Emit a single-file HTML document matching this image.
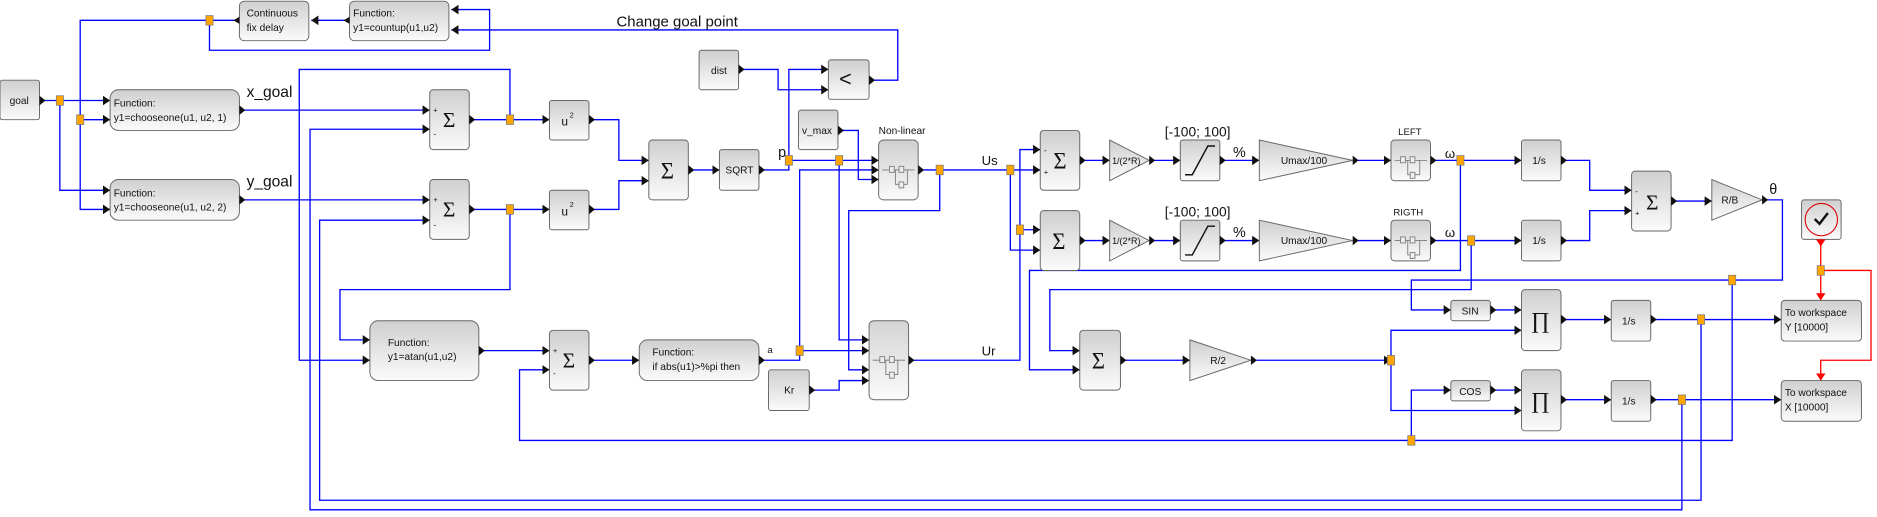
<!DOCTYPE html>
<html><head><meta charset="utf-8"><style>
html,body{margin:0;padding:0;background:#fff;}
svg{display:block;}
text{font-family:"Liberation Sans",sans-serif;fill:#111;}
</style></head><body>
<svg width="1877" height="517" viewBox="0 0 1568 432" preserveAspectRatio="none" xmlns="http://www.w3.org/2000/svg">
<defs>
<linearGradient id="g" x1="0" y1="0" x2="0" y2="1"><stop offset="0" stop-color="#cfcfcf"/><stop offset="1" stop-color="#fbfbfb"/></linearGradient>
<marker id="a" markerUnits="userSpaceOnUse" markerWidth="8" markerHeight="8" refX="6" refY="4" orient="auto"><path d="M0,0 L6,4 L0,8Z" fill="#111"/></marker>
<marker id="r" markerUnits="userSpaceOnUse" markerWidth="8" markerHeight="8" refX="6" refY="4" orient="auto"><path d="M0,0 L6,4 L0,8Z" fill="#f00"/></marker>
</defs>
<style>
.b{fill:url(#g);stroke:#666;stroke-width:0.8}
.l{fill:none;stroke:#0000ff;stroke-width:1.1}
.l2{fill:none;stroke:#0000ff;stroke-width:0.7}
.rd{fill:none;stroke:#f00;stroke-width:1.1}
.s{fill:#ffa500;stroke:#777;stroke-width:0.6}
.t{font-size:8.5px}
.o{fill:#111}
</style>

<!-- LINES -->
<g class="l" marker-end="url(#a)">
<polyline points="292,17 260,17"/>
<polyline points="200,17 175,17 67,17 67,175 92,175"/>
<polyline points="175,17 175,42 409,42 409,8 377,8"/>
<polyline points="728,67 750,67 750,25 377,25"/>
<polyline points="35,84 92,84"/>
<polyline points="50,84 50,159 92,159"/>
<polyline points="67,100 92,100"/>
<polyline points="202,92 359,92"/>
<polyline points="202,167 359,167"/>
<polyline points="394,100 459,100"/>
<polyline points="426,100 426,58 250,58 250,301 309,301"/>
<polyline points="394,175 459,175"/>
<polyline points="426,175 426,242 284,242 284,284 309,284"/>
<polyline points="494,100 517,100 517,134 542,134"/>
<polyline points="494,175 517,175 517,151 542,151"/>
<polyline points="577,142 601,142"/>
<polyline points="659,134 734,134"/>
<polyline points="659,134 659,58 692,58"/>
<polyline points="619,58 650,58 650,75 692,75"/>
<polyline points="701,134 701,284 726,284"/>
<polyline points="702,109 717,109 717,150 734,150"/>
<polyline points="668,293 726,293"/>
<polyline points="668,293 668,142 734,142"/>
<polyline points="678,326 701,326 701,318 726,318"/>
<polyline points="785,142 785,176 709,176 709,309 726,309"/>
<polyline points="844,142 869,142"/>
<polyline points="844,142 844,209 869,209"/>
<polyline points="761,301 852,301 852,125 869,125"/>
<polyline points="852,192 869,192"/>
<polyline points="904,134 927,134"/>
<polyline points="962,134 986,134"/>
<polyline points="1021,134 1052,134"/>
<polyline points="1132,134 1162,134"/>
<polyline points="1197,134 1271,134"/>
<polyline points="1306,134 1328,134 1328,159 1363,159"/>
<polyline points="904,201 927,201"/>
<polyline points="962,201 986,201"/>
<polyline points="1021,201 1052,201"/>
<polyline points="1132,201 1162,201"/>
<polyline points="1197,201 1271,201"/>
<polyline points="1306,201 1328,201 1328,176 1363,176"/>
<polyline points="1398,168 1430,168"/>
<polyline points="1474,167 1489,167 1489,234 1179,234 1179,259 1212,259"/>
<polyline points="1447,234 1447,368 434,368 434,309 459,309"/>
<polyline points="1179,368 1179,326 1212,326"/>
<polyline points="1220,134 1220,226 860,226 860,309 902,309"/>
<polyline points="1229,201 1229,242 877,242 877,293 902,293"/>
<polyline points="402,293 459,293"/>
<polyline points="494,301 534,301"/>
<polyline points="938,301 994,301"/>
<polyline points="1047,301 1162,301"/>
<polyline points="1162,301 1162,276 1271,276"/>
<polyline points="1162,301 1162,343 1271,343"/>
<polyline points="1247,259 1271,259"/>
<polyline points="1247,326 1271,326"/>
<polyline points="1306,267 1346,267"/>
<polyline points="1306,334 1346,334"/>
<polyline points="1381,267 1488,267"/>
<polyline points="1381,334 1488,334"/>
<polyline points="1405,334 1405,426 259,426 259,108 359,108"/>
<polyline points="1421,267 1421,418 267,418 267,184 359,184"/>
</g>
<g class="l">
<polyline points="636,142 659,142 659,134"/>
<polyline points="636,301 668,301 668,293"/>
<polyline points="769,142 844,142"/>
</g>
<g class="rd" marker-end="url(#r)">
<polyline points="1521,202 1521,251"/>
<polyline points="1521,226 1563,226 1563,301 1521,301 1521,318"/>
</g>

<!-- BLOCKS -->
<g>
<rect class="b" x="200" y="1" width="58" height="33" rx="4"/>
<text class="t" x="206" y="14">Continuous</text><text class="t" x="206" y="26">fix delay</text>
<rect class="b" x="292" y="1" width="83" height="33" rx="4"/>
<text class="t" x="295" y="14">Function:</text><text class="t" x="295" y="26">y1=countup(u1,u2)</text>
<rect class="b" x="0" y="67" width="33" height="33" rx="2"/>
<text class="t" x="8" y="87">goal</text>
<rect class="b" x="92" y="75" width="108" height="34" rx="7"/>
<text class="t" x="95" y="89">Function:</text><text class="t" x="95" y="101">y1=chooseone(u1, u2, 1)</text>
<rect class="b" x="92" y="150" width="108" height="34" rx="7"/>
<text class="t" x="95" y="164">Function:</text><text class="t" x="95" y="176">y1=chooseone(u1, u2, 2)</text>
<text x="206" y="81" font-size="13">x_goal</text>
<text x="206" y="156" font-size="13">y_goal</text>
<text x="515" y="22" font-size="12.5">Change goal point</text>

<!-- sums -->
<g font-family="Liberation Serif" >
<rect class="b" x="359" y="75" width="33" height="50" rx="3"/>
<text x="370" y="106" font-size="18" style="font-family:'Liberation Serif',serif">Σ</text>
<text x="362" y="94" font-size="6">+</text><text x="362" y="114" font-size="7">-</text>
<rect class="b" x="359" y="150" width="33" height="50" rx="3"/>
<text x="370" y="181" font-size="18" style="font-family:'Liberation Serif',serif">Σ</text>
<text x="362" y="169" font-size="6">+</text><text x="362" y="190" font-size="7">-</text>
<rect class="b" x="542" y="117" width="33" height="50" rx="3"/>
<text x="552" y="149" font-size="19" style="font-family:'Liberation Serif',serif">Σ</text>
<rect class="b" x="869" y="109" width="33" height="50" rx="3"/>
<text x="880" y="141" font-size="19" style="font-family:'Liberation Serif',serif">Σ</text>
<text x="872" y="128" font-size="7">-</text><text x="872" y="146" font-size="6">+</text>
<rect class="b" x="869" y="176" width="33" height="50" rx="3"/>
<text x="879" y="208" font-size="19" style="font-family:'Liberation Serif',serif">Σ</text>
<rect class="b" x="1363" y="143" width="33" height="50" rx="3"/>
<text x="1375" y="175" font-size="18" style="font-family:'Liberation Serif',serif">Σ</text>
<text x="1366" y="162" font-size="7">-</text><text x="1366" y="180" font-size="6">+</text>
<rect class="b" x="459" y="276" width="33" height="50" rx="3"/>
<text x="470" y="307" font-size="18" style="font-family:'Liberation Serif',serif">Σ</text>
<text x="462" y="295" font-size="6">+</text><text x="462" y="314" font-size="7">-</text>
<rect class="b" x="902" y="276" width="34" height="50" rx="3"/>
<text x="912" y="308" font-size="19" style="font-family:'Liberation Serif',serif">Σ</text>
<rect class="b" x="1271" y="242" width="33" height="51" rx="3"/>
<text x="1279" y="274" font-size="19" style="font-family:'Liberation Serif',serif">∏</text>
<rect class="b" x="1271" y="309" width="33" height="51" rx="3"/>
<text x="1279" y="341" font-size="19" style="font-family:'Liberation Serif',serif">∏</text>
</g>

<rect class="b" x="459" y="84" width="33" height="33" rx="2"/>
<text x="469" y="105" font-size="10">u</text><text x="476" y="98" font-size="6">2</text>
<rect class="b" x="459" y="159" width="33" height="33" rx="2"/>
<text x="469" y="180" font-size="10">u</text><text x="476" y="173" font-size="6">2</text>
<rect class="b" x="601" y="125" width="33" height="34" rx="2"/>
<text class="t" x="606" y="145">SQRT</text>
<rect class="b" x="584" y="42" width="33" height="33" rx="2"/>
<text class="t" x="594" y="62">dist</text>
<rect class="b" x="692" y="50" width="34" height="33" rx="2"/>
<text x="701" y="72" font-size="18" fill="#333">&lt;</text>
<rect class="b" x="667" y="92" width="33" height="33" rx="2"/>
<text class="t" x="670" y="112">v_max</text>
<text class="t" x="734" y="112">Non-linear</text>
<rect class="b" x="734" y="117" width="33" height="50" rx="4"/>
<g fill="none" stroke="#777" stroke-width="0.7">
<path d="M737,142 H764 M748,142 V154 H758 V142"/><rect x="743" y="139" width="4" height="5" fill="#eee"/><rect x="751" y="139" width="4" height="5" fill="#eee"/><rect x="751" y="152" width="4" height="5" fill="#eee"/>
<path d="M729,301 H756 M740,301 V313 H750 V301"/><rect x="735" y="298" width="4" height="5" fill="#eee"/><rect x="743" y="298" width="4" height="5" fill="#eee"/><rect x="743" y="311" width="4" height="5" fill="#eee"/>
<path d="M1165,134 H1192 M1176,134 V146 H1186 V134"/><rect x="1170" y="131" width="4" height="5" fill="#eee"/><rect x="1178" y="131" width="4" height="5" fill="#eee"/><rect x="1178" y="144" width="4" height="5" fill="#eee"/>
<path d="M1165,201 H1192 M1176,201 V213 H1186 V201"/><rect x="1170" y="198" width="4" height="5" fill="#eee"/><rect x="1178" y="198" width="4" height="5" fill="#eee"/><rect x="1178" y="211" width="4" height="5" fill="#eee"/>
</g>
<rect class="b" x="726" y="268" width="33" height="66" rx="4" fill-opacity="0.9"/>
<g fill="none" stroke="#777" stroke-width="0.7">
<path d="M729,301 H756 M740,301 V313 H750 V301"/><rect x="735" y="298" width="4" height="5" fill="#eee"/><rect x="743" y="298" width="4" height="5" fill="#eee"/><rect x="743" y="311" width="4" height="5" fill="#eee"/>
</g>

<!-- gains -->
<polygon class="b" points="927,117 960,134 927,151"/>
<text x="929" y="137" font-size="7.5">1/(2*R)</text>
<polygon class="b" points="927,184 960,201 927,218"/>
<text x="929" y="204" font-size="7.5">1/(2*R)</text>
<rect class="b" x="986" y="117" width="33" height="34" rx="2"/>
<path d="M990,146 H996 L1009,122 H1015" fill="none" stroke="#111" stroke-width="1.2"/>
<rect class="b" x="986" y="184" width="33" height="34" rx="2"/>
<path d="M990,213 H996 L1009,189 H1015" fill="none" stroke="#111" stroke-width="1.2"/>
<text x="973" y="114" font-size="11.5">[-100; 100]</text>
<text x="973" y="181" font-size="11.5">[-100; 100]</text>
<text x="1030" y="131" font-size="12">%</text>
<text x="1030" y="198" font-size="12">%</text>
<polygon class="b" points="1052,117 1130,134 1052,151"/>
<text class="t" x="1070" y="137">Umax/100</text>
<polygon class="b" points="1052,184 1130,201 1052,218"/>
<text class="t" x="1070" y="204">Umax/100</text>
<text x="1168" y="113" font-size="8">LEFT</text>
<text x="1164" y="180" font-size="8">RIGTH</text>
<rect class="b" x="1162" y="117" width="33" height="34" rx="3"/>
<rect class="b" x="1162" y="184" width="33" height="34" rx="3"/>
<g fill="none" stroke="#777" stroke-width="0.7">
<path d="M1165,134 H1192 M1176,134 V146 H1186 V134"/><rect x="1170" y="131" width="4" height="5" fill="#eee"/><rect x="1178" y="131" width="4" height="5" fill="#eee"/><rect x="1178" y="144" width="4" height="5" fill="#eee"/>
<path d="M1165,201 H1192 M1176,201 V213 H1186 V201"/><rect x="1170" y="198" width="4" height="5" fill="#eee"/><rect x="1178" y="198" width="4" height="5" fill="#eee"/><rect x="1178" y="211" width="4" height="5" fill="#eee"/>
</g>
<text x="1207" y="132" font-size="11">ω</text>
<text x="1207" y="198" font-size="11">ω</text>
<rect class="b" x="1271" y="117" width="33" height="34" rx="2"/>
<text class="t" x="1280" y="137">1/s</text>
<rect class="b" x="1271" y="184" width="33" height="34" rx="2"/>
<text class="t" x="1280" y="204">1/s</text>
<polygon class="b" points="1430,150 1472,167 1430,184"/>
<text class="t" x="1438" y="170">R/B</text>
<text x="1478" y="162" font-size="12">θ</text>
<rect class="b" x="1505" y="167" width="33" height="33" rx="2"/>
<circle cx="1521.5" cy="183.5" r="13.5" fill="none" stroke="#d00" stroke-width="0.9"/>
<path d="M1516,183 L1520,187 L1527,178" fill="none" stroke="#111" stroke-width="2"/>

<text x="650" y="131" font-size="12">p</text>
<text x="820" y="138" font-size="11">Us</text>
<text x="820" y="297" font-size="11">Ur</text>
<text x="641" y="295" font-size="8">a</text>

<rect class="b" x="309" y="268" width="91" height="50" rx="7"/>
<text class="t" x="324" y="289">Function:</text><text class="t" x="324" y="301">y1=atan(u1,u2)</text>
<rect class="b" x="534" y="284" width="100" height="34" rx="7"/>
<text class="t" x="545" y="297">Function:</text><text class="t" x="545" y="309">if abs(u1)&gt;%pi then</text>
<rect class="b" x="642" y="309" width="34" height="34" rx="2"/>
<text class="t" x="655" y="329">Kr</text>
<polygon class="b" points="994,284 1045,301 994,318"/>
<text class="t" x="1011" y="304">R/2</text>
<rect class="b" x="1212" y="251" width="33" height="17" rx="2"/>
<text class="t" x="1221" y="263">SIN</text>
<rect class="b" x="1212" y="318" width="33" height="17" rx="2"/>
<text class="t" x="1219" y="330">COS</text>
<rect class="b" x="1346" y="251" width="33" height="34" rx="2"/>
<text class="t" x="1355" y="271">1/s</text>
<rect class="b" x="1346" y="318" width="33" height="34" rx="2"/>
<text class="t" x="1355" y="338">1/s</text>
<rect class="b" x="1488" y="251" width="67" height="34" rx="3"/>
<text class="t" x="1491" y="264">To workspace</text><text class="t" x="1491" y="276">Y [10000]</text>
<rect class="b" x="1488" y="318" width="67" height="34" rx="3"/>
<text class="t" x="1491" y="331">To workspace</text><text class="t" x="1491" y="343">X [10000]</text>
</g>

<!-- output port triangles -->
<g class="o">
<path d="M200,14 L195,17 L200,20Z"/><path d="M292,14 L287,17 L292,20Z"/>
<path d="M33,80 L38,84 L33,88Z"/><path d="M200,88 L205,92 L200,96Z"/><path d="M200,163 L205,167 L200,171Z"/>
<path d="M392,96 L397,100 L392,104Z"/><path d="M392,171 L397,175 L392,179Z"/>
<path d="M492,96 L497,100 L492,104Z"/><path d="M492,171 L497,175 L492,179Z"/>
<path d="M575,138 L580,142 L575,146Z"/><path d="M634,138 L639,142 L634,146Z"/>
<path d="M617,54 L622,58 L617,62Z"/><path d="M726,63 L731,67 L726,71Z"/><path d="M700,105 L705,109 L700,113Z"/>
<path d="M767,138 L772,142 L767,146Z"/><path d="M759,297 L764,301 L759,305Z"/>
<path d="M902,130 L907,134 L902,138Z"/><path d="M902,197 L907,201 L902,205Z"/>
<path d="M960,130 L965,134 L960,138Z"/><path d="M960,197 L965,201 L960,205Z"/>
<path d="M1019,130 L1024,134 L1019,138Z"/><path d="M1019,197 L1024,201 L1019,205Z"/>
<path d="M1130,130 L1135,134 L1130,138Z"/><path d="M1130,197 L1135,201 L1130,205Z"/>
<path d="M1195,130 L1200,134 L1195,138Z"/><path d="M1195,197 L1200,201 L1195,205Z"/>
<path d="M1304,130 L1309,134 L1304,138Z"/><path d="M1304,197 L1309,201 L1304,205Z"/>
<path d="M1396,164 L1401,168 L1396,172Z"/><path d="M1472,163 L1477,167 L1472,171Z"/>
<path d="M400,289 L405,293 L400,297Z"/><path d="M492,297 L497,301 L492,305Z"/><path d="M634,297 L639,301 L634,305Z"/>
<path d="M676,322 L681,326 L676,330Z"/><path d="M936,297 L941,301 L936,305Z"/><path d="M1045,297 L1050,301 L1045,305Z"/>
<path d="M1245,255 L1250,259 L1245,263Z"/><path d="M1245,322 L1250,326 L1245,330Z"/>
<path d="M1304,263 L1309,267 L1304,271Z"/><path d="M1304,330 L1309,334 L1304,338Z"/>
<path d="M1379,263 L1384,267 L1379,271Z"/><path d="M1379,330 L1384,334 L1379,338Z"/>
<path d="M1517,200 L1521,206 L1525,200Z" fill="#f00"/>
</g>

<!-- splits -->
<g class="s">
<rect x="172" y="13" width="6" height="8"/><rect x="47" y="80" width="6" height="8"/><rect x="64" y="96" width="6" height="8"/>
<rect x="423" y="96" width="6" height="8"/><rect x="423" y="171" width="6" height="8"/>
<rect x="656" y="130" width="6" height="8"/><rect x="698" y="130" width="6" height="8"/><rect x="665" y="289" width="6" height="8"/>
<rect x="782" y="138" width="6" height="8"/><rect x="841" y="138" width="6" height="8"/><rect x="849" y="188" width="6" height="8"/>
<rect x="1217" y="130" width="6" height="8"/><rect x="1226" y="197" width="6" height="8"/>
<rect x="1444" y="230" width="6" height="8"/><rect x="1176" y="364" width="6" height="8"/><rect x="1159" y="297" width="6" height="8"/>
<rect x="1418" y="263" width="6" height="8"/><rect x="1402" y="330" width="6" height="8"/><rect x="1518" y="222" width="6" height="8"/>
</g>
</svg>
</body></html>
